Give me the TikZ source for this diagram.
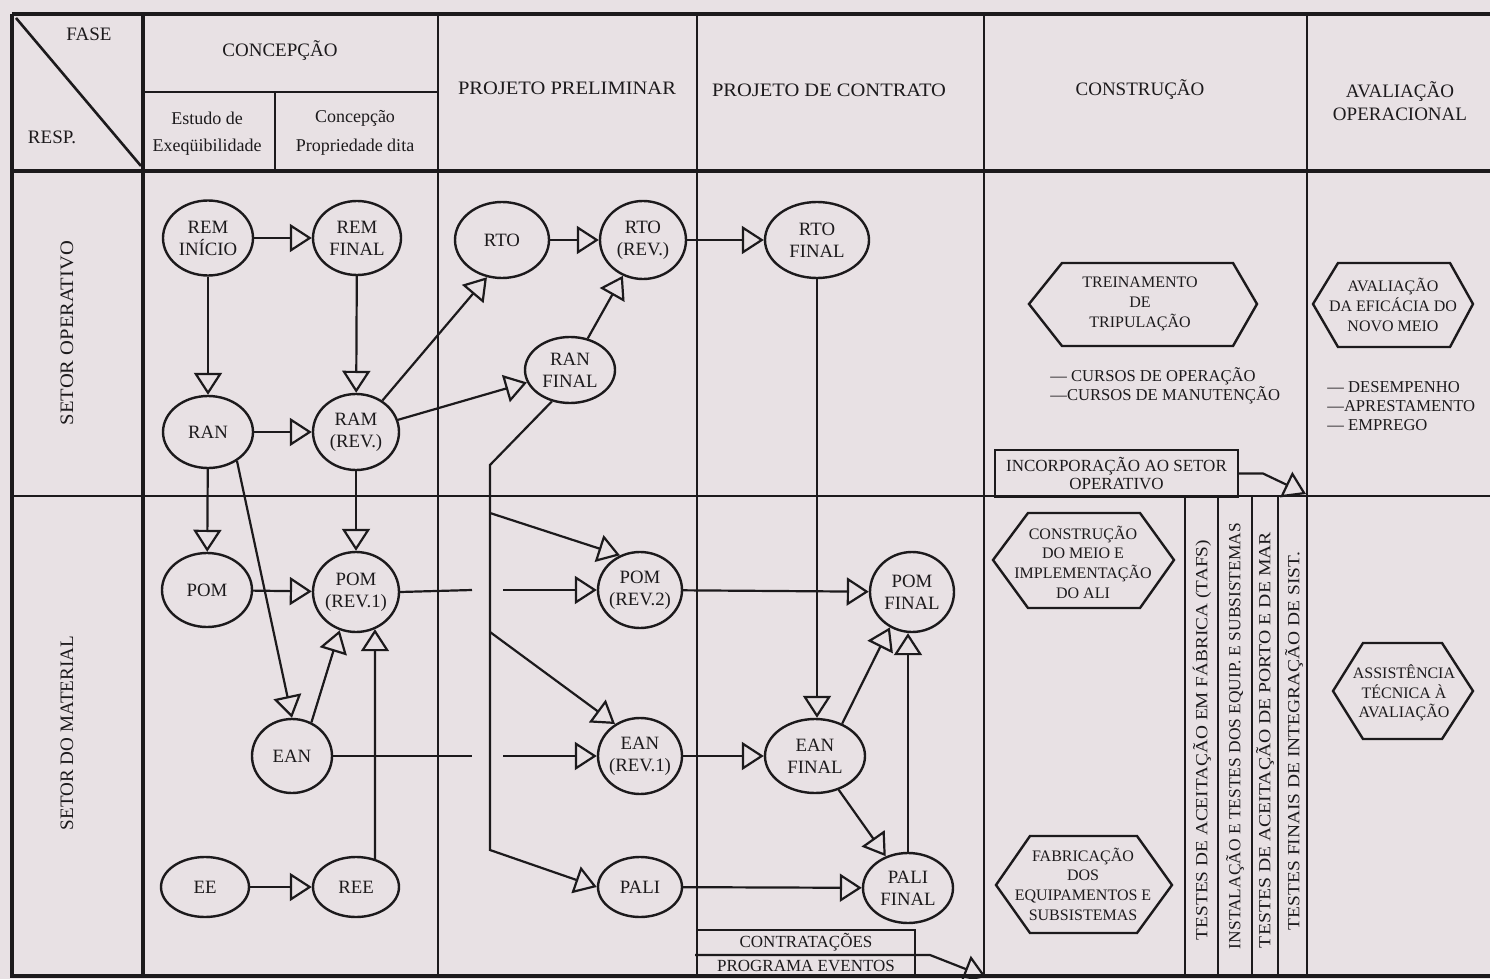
\documentclass[tikz,border=0pt]{standalone}
\usepackage{fontspec}
\setmainfont{Liberation Serif}
\usetikzlibrary{shapes.geometric,arrows.meta,calc}
\definecolor{paper}{RGB}{232,225,228}
\definecolor{ink}{RGB}{28,26,28}
% stretch a line of text horizontally to a given width
\newsavebox\fitbox
\newcommand\fitwidth[2]{\sbox\fitbox{#2}\pgfmathsetmacro\fitratio{#1/\the\wd\fitbox}\scalebox{\fitratio}[1]{\usebox\fitbox}}
\begin{document}
\begin{tikzpicture}[x=0.5pt,y=-0.5pt,
  frame/.style={draw=ink, line width=1.7pt},
  grid/.style={draw=ink, line width=1.3pt},
  conn/.style={draw=ink, line width=1.1pt},
  arr/.style={conn, -{Triangle[open, length=11pt, width=14pt]}},
  ell/.style={ellipse, draw=ink, line width=1.2pt, inner sep=-1.5pt, align=center, text=ink, font=\fontsize{9.4}{11}\selectfont},
  hdr/.style={text=ink, font=\fontsize{9.5}{11.5}\selectfont, inner sep=0pt, align=center},
  sub/.style={text=ink, font=\fontsize{9}{11}\selectfont, inner sep=0pt},
  hex/.style={draw=ink, line width=1.2pt},
  hextext/.style={text=ink, font=\fontsize{8}{9.8}\selectfont, align=center, inner sep=0pt},
  note/.style={text=ink, font=\fontsize{8.3}{9.5}\selectfont, align=left, inner sep=0pt, anchor=west},
  strip/.style={text=ink, font=\fontsize{8.5}{10}\selectfont, rotate=90, inner sep=0pt},
  rowlab/.style={text=ink, font=\fontsize{9.5}{11}\selectfont, rotate=90, inner sep=0pt},
  boxtext/.style={text=ink, font=\fontsize{8.5}{9.5}\selectfont, inner sep=0pt, align=center}]
\useasboundingbox (0,0) rectangle (1490,979);
\fill[paper] (0,0) rectangle (1490,979);

% ---------- table grid ----------
\draw[frame] (12,14) -- (1490,14);
\draw[frame] (12,14) -- (12,976) -- (1490,976);
\draw[frame] (12,171) -- (1490,171);
\draw[frame] (143,14) -- (143,976);
\foreach \cx in {438,697,984,1307} \draw[grid] (\cx,14) -- (\cx,976);
\draw[grid] (12,496) -- (1490,496);
\draw[grid] (143,92) -- (438,92);
\draw[grid] (275,92) -- (275,171);
\draw[grid] (16,18) -- (141,166);
\foreach \cx in {1185,1218,1252,1278} \draw[grid] (\cx,496) -- (\cx,976);

% ---------- headers ----------
\node[hdr] (fase) at (89,34) {FASE};
\node[hdr] (resp) at (52,137) {RESP.};
\node[hdr] (concep) at (280,51) {CONCEPÇÃO};
\node[sub] (est1) at (207,118) {Estudo de};
\node[sub] (est2) at (207,147) {Exeqüibilidade};
\node[sub] (pro1) at (355,118) {Concepção};
\node[sub] (pro2) at (355,147) {Propriedade dita};
\node[hdr] (prelim) at (567,88) {\fitwidth{109pt}{PROJETO PRELIMINAR}};
\node[hdr] (contr) at (829,90) {\fitwidth{117pt}{PROJETO DE CONTRATO}};
\node[hdr] (constr) at (1140,90) {CONSTRUÇÃO};
\node[hdr] (aval) at (1400,101) {AVALIAÇÃO\\OPERACIONAL};

\node[rowlab] (rowop) at (67,333) {\fitwidth{92pt}{SETOR OPERATIVO}};
\node[rowlab] (rowmat) at (67,733) {\fitwidth{97pt}{SETOR DO MATERIAL}};

% ---------- events ----------
\node[ell, minimum width=45pt, minimum height=37.5pt] (remi) at (208,238) {REM\\INÍCIO};
\node[ell, minimum width=44pt, minimum height=37pt] (remf) at (357,238) {REM\\FINAL};
\node[ell, minimum width=47pt, minimum height=38pt] (rto) at (502,240) {RTO};
\node[ell, minimum width=43pt, minimum height=39pt] (rtor) at (643,240) {RTO\\(REV.)};
\node[ell, minimum width=52pt, minimum height=38pt] (rtof) at (817,240) {RTO\\FINAL};
\node[ell, minimum width=45pt, minimum height=33pt] (ranf) at (570,370) {RAN\\FINAL};
\node[ell, minimum width=45pt, minimum height=36pt] (ran) at (208,432) {RAN};
\node[ell, minimum width=43pt, minimum height=38pt] (ramr) at (356,432) {RAM\\(REV.)};
\node[ell, minimum width=45pt, minimum height=37pt] (pom) at (207,590) {POM};
\node[ell, minimum width=43pt, minimum height=40pt] (pomr1) at (356,592) {POM\\(REV.1)};
\node[ell, minimum width=42pt, minimum height=38pt] (pomr2) at (640,590) {POM\\(REV.2)};
\node[ell, minimum width=42pt, minimum height=40pt] (pomf) at (912,592) {POM\\FINAL};
\node[ell, minimum width=40pt, minimum height=37pt] (ean) at (292,756) {EAN};
\node[ell, minimum width=42pt, minimum height=38pt] (eanr1) at (640,756) {EAN\\(REV.1)};
\node[ell, minimum width=50pt, minimum height=37pt] (eanf) at (815,756) {EAN\\FINAL};
\node[ell, minimum width=44pt, minimum height=30pt] (ee) at (205,887) {EE};
\node[ell, minimum width=43pt, minimum height=30pt] (ree) at (356,887) {REE};
\node[ell, minimum width=42pt, minimum height=30pt] (pali) at (640,887) {PALI};
\node[ell, minimum width=45pt, minimum height=35pt] (palif) at (908,888) {PALI\\FINAL};

% ---------- precedences ----------
\draw[arr] (remi) -- (remf);
\draw[arr] (remi) -- (ran);
\draw[arr] (remf) -- (ramr);
\draw[arr] (ran) -- (ramr);
\draw[arr] (ramr.50) -- (rto.-112);
\draw[arr] (ramr) -- (ranf);
\draw[arr] (rto) -- (rtor);
\draw[arr] (ranf) -- (rtor);
\draw[arr] (rtor) -- (rtof);
\draw[arr] (rtof.south) -- (rtof.south |- eanf.north);
\draw[arr] (ran) -- (pom);
\draw[arr] (ran.-45) -- (ean.north);
\draw[arr] (ramr) -- (pomr1);
\draw[arr] (pom) -- (pomr1);
\draw[arr] (ean.60) -- (pomr1.-113);
\draw[arr] (ree.56) -- (pomr1.-63);
\draw[arr] (ee) -- (ree);

% lines interrupted where they cross the vertical bus
\coordinate (gapAL) at (472,590);
\coordinate (gapAR) at (503,590);
\coordinate (gapBL) at (472,756);
\coordinate (gapBR) at (503,756);
\draw[conn] (pomr1.east) -- (gapAL);
\draw[arr] (gapAR) -- (pomr2.west);
\draw[conn] (ean.east) -- (gapBL);
\draw[arr] (gapBR) -- (eanr1.west);

% bus leaving RAN FINAL
\coordinate (busTop) at (490,465);
\coordinate (busA) at (490,513);
\coordinate (busB) at (490,632);
\coordinate (busC) at (490,850);
\draw[arr] (ranf.-120) -- (busTop) -- (busC) -- (pali.west);
\draw[arr] (busA) -- (pomr2.120);
\draw[arr] (busB) -- (eanr1.128);

\draw[arr] (pomr2) -- (pomf);
\draw[arr] (eanr1) -- (eanf);
\draw[arr] (pali) -- (palif);
\draw[arr] (eanf.50) -- (pomf.-122);
\draw[arr] (eanf.-55) -- (palif.125);
\draw[arr] (palif.north) -- (palif.north |- pomf.south);

% ---------- contracting box ----------
\draw[conn] (697,930) -- (915,930) -- (915,976);
\node[boxtext] (ctr1) at (806,942) {CONTRATAÇÕES};
\node[boxtext] (ctr2) at (806,966) {PROGRAMA EVENTOS};
\coordinate (ctrL) at (695,955);
\coordinate (ctrM) at (930,955);
\coordinate (ctrT) at (986,977);
\draw[arr] (ctrL) -- (ctrM) -- (ctrT);

% ---------- construction phase ----------
\draw[hex] (1029,304) -- (1062,263) -- (1233,263) -- (1257,304) -- (1233,346) -- (1062,346) -- cycle;
\node[hextext] (trein) at (1140,304) {TREINAMENTO\\DE\\TRIPULAÇÃO};
\node[note] (cursos) at (1050,386) {— CURSOS DE OPERAÇÃO\\—CURSOS DE MANUTENÇÃO};

\draw[hex] (1313,304) -- (1338,263) -- (1450,263) -- (1473,304) -- (1450,347) -- (1338,347) -- cycle;
\node[hextext] (efic) at (1393,305) {AVALIAÇÃO\\DA EFICÁCIA DO\\NOVO MEIO};
\node[note, font=\fontsize{8.3}{9.6}\selectfont] (desemp) at (1327,406) {— DESEMPENHO\\—APRESTAMENTO\\— EMPREGO};

\node[draw=ink, line width=1.1pt, minimum width=121.5pt, minimum height=23.5pt, inner sep=0pt,
      text=ink, font=\fontsize{8.5}{9}\selectfont, align=center] (inc) at (1116.5,473.5)
      {INCORPORAÇÃO AO SETOR\\OPERATIVO};
\coordinate (incM) at (1263,473.5);
\coordinate (incT) at (1306,494);
\draw[arr] (inc.east) -- (incM) -- (incT);

\draw[hex] (993,560) -- (1028,513) -- (1140,513) -- (1174,560) -- (1140,608) -- (1028,608) -- cycle;
\node[hextext] (cmeio) at (1083,562) {CONSTRUÇÃO\\DO MEIO E\\IMPLEMENTAÇÃO\\DO ALI};

\draw[hex] (996,885) -- (1030,836) -- (1137,836) -- (1172,885) -- (1137,933) -- (1030,933) -- cycle;
\node[hextext] (fabr) at (1083,884) {FABRICAÇÃO\\DOS\\EQUIPAMENTOS E\\SUBSISTEMAS};

\node[strip] (tafs) at (1202,740) {\fitwidth{200pt}{TESTES DE ACEITAÇÃO EM FÁBRICA (TAFS)}};
\node[strip] (inst) at (1235,736) {\fitwidth{213pt}{INSTALAÇÃO E TESTES DOS EQUIP. E SUBSISTEMAS}};
\node[strip] (porto) at (1265,740) {\fitwidth{208pt}{TESTES DE ACEITAÇÃO DE PORTO E DE MAR}};
\node[strip] (integ) at (1294,741) {\fitwidth{189pt}{TESTES FINAIS DE INTEGRAÇÃO DE SIST.}};

% ---------- operational evaluation ----------
\draw[hex] (1333,691) -- (1363,643) -- (1442,643) -- (1473,691) -- (1442,739) -- (1363,739) -- cycle;
\node[hextext] (assist) at (1404,693) {ASSISTÊNCIA\\TÉCNICA À\\AVALIAÇÃO};
\end{tikzpicture}
\end{document}
